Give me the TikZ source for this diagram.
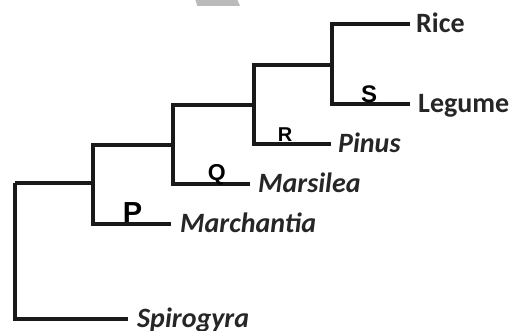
\documentclass[tikz,border=0pt]{standalone}
\usepackage{fontspec}
\setmainfont{Carlito}
\newfontfamily\letterfont{Liberation Sans}
\begin{document}
\begin{tikzpicture}[x=1pt,y=-1pt,
  tree/.style={line width=3.5pt,draw=black!90,line join=miter},
  taxon/.style={anchor=base west,inner sep=0pt,font=\bfseries\fontsize{28}{30}\selectfont,text=black!85},
  letter/.style={anchor=base,inner sep=0pt,text=black}]
\useasboundingbox (0,0) rectangle (513,331);
% watermark fragment
\fill[black!27] (195,-1) -- (237,-1) -- (240,6) -- (197.5,6) -- cycle;
% internal nodes
\coordinate (root) at (15,183);
\coordinate (n2) at (93,183);
\coordinate (n3) at (173,145);
\coordinate (n4) at (254,105);
\coordinate (n5) at (332,65);
% branch ends
\coordinate (riceend) at (410,24);
\coordinate (legend) at (410,104);
\coordinate (pinend) at (331,144);
\coordinate (marsend) at (250,184);
\coordinate (marchend) at (171,224);
\coordinate (spiroend) at (128,319);
% tree
\draw[tree] (root) |- (spiroend);
\draw[tree] (root) -- (n2);
\draw[tree] (n2) |- (marchend);
\draw[tree] (n2) |- (n3);
\draw[tree] (n3) |- (marsend);
\draw[tree] (n3) |- (n4);
\draw[tree] (n4) |- (pinend);
\draw[tree] (n4) |- (n5);
\draw[tree] (n5) |- (riceend);
\draw[tree] (n5) |- (legend);
% taxa
\node[taxon] (rice) at (416,33) {Rice};
\node[taxon] (legume) at (418,113) {Legume};
\node[taxon] (pinus) at (338,152.5) {\itshape Pinus};
\node[taxon] (marsilea) at (258,192.5) {\itshape Marsilea};
\node[taxon] (marchantia) at (180,232.5) {\itshape Marchantia};
\node[taxon] (spirogyra) at (137,327.5) {\itshape Spirogyra};
% letters
\node[letter,font=\letterfont\bfseries\fontsize{29}{31}\selectfont] (P) at (132.5,222) {P};
\node[letter,font=\letterfont\bfseries\fontsize{23}{25}\selectfont] (Q) at (216.7,180.5) {Q};
\node[letter,font=\letterfont\bfseries\fontsize{20}{22}\selectfont] (R) at (285,141.7) {R};
\node[letter,font=\letterfont\bfseries\fontsize{24}{26}\selectfont] (S) at (369,103) {S};
\end{tikzpicture}
\end{document}
